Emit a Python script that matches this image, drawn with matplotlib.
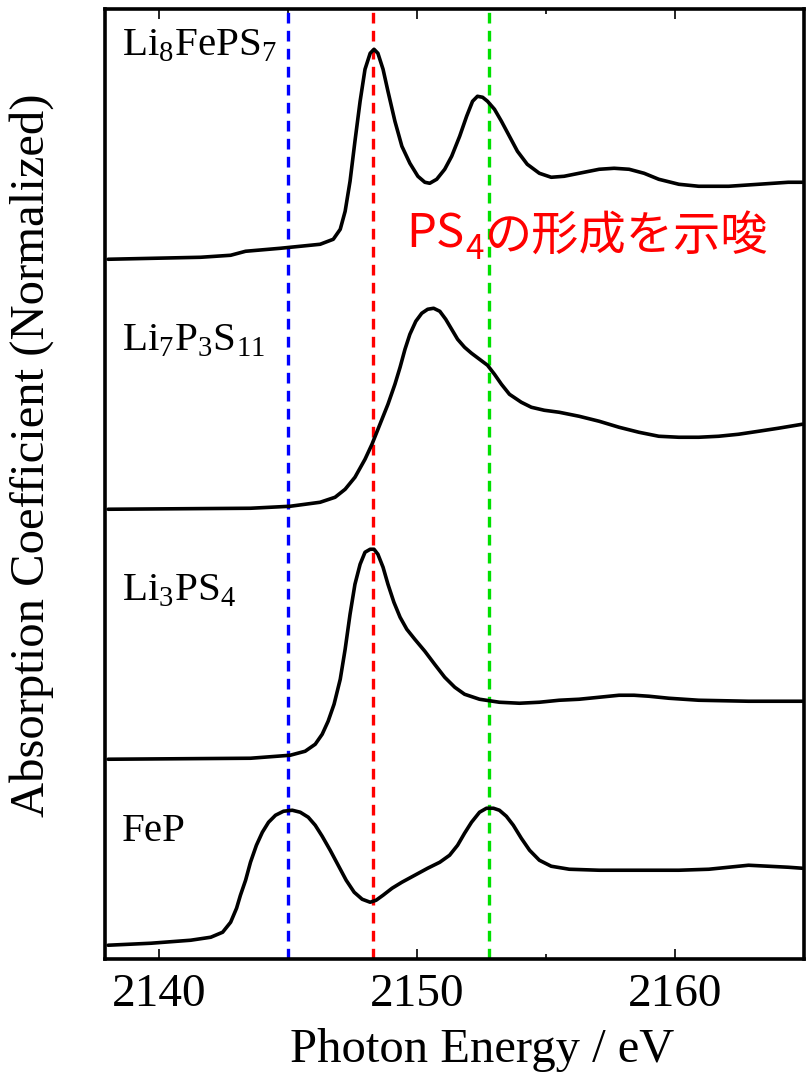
import matplotlib
matplotlib.use("Agg")
import matplotlib.pyplot as plt
from matplotlib.ticker import MultipleLocator

# S K-edge XANES spectra, normalized intensity before vertical offset
energy_fep = [2138.02, 2139.68, 2141.22, 2142.00, 2142.46, 2142.77, 2143.00, 2143.15, 2143.35, 2143.54,
              2143.77, 2144.00, 2144.24, 2144.51, 2144.82, 2145.16, 2145.47, 2145.78, 2146.05, 2146.32,
              2146.63, 2146.94, 2147.25, 2147.56, 2147.87, 2148.18, 2148.41, 2148.68, 2149.03, 2149.41,
              2149.91, 2150.41, 2150.88, 2151.26, 2151.57, 2151.84, 2152.11, 2152.42, 2152.69, 2152.96,
              2153.19, 2153.46, 2153.73, 2154.04, 2154.36, 2154.74, 2155.20, 2155.90, 2157.06, 2158.60,
              2160.15, 2161.31, 2162.08, 2162.85, 2163.62, 2164.39, 2164.93]
absorb_fep = [0.00, 0.02, 0.05, 0.08, 0.13, 0.23, 0.37, 0.50, 0.65, 0.83,
              1.00, 1.13, 1.23, 1.30, 1.34, 1.35, 1.33, 1.28, 1.20, 1.09,
              0.95, 0.80, 0.65, 0.53, 0.46, 0.43, 0.45, 0.50, 0.57, 0.63,
              0.70, 0.77, 0.83, 0.90, 1.00, 1.12, 1.23, 1.33, 1.37, 1.37,
              1.35, 1.29, 1.20, 1.07, 0.95, 0.85, 0.79, 0.76, 0.75, 0.75,
              0.75, 0.76, 0.78, 0.80, 0.79, 0.78, 0.77]

energy_li3ps4 = [2138.02, 2143.54, 2145.08, 2145.66, 2146.05, 2146.32, 2146.55, 2146.78, 2147.02, 2147.21,
                 2147.40, 2147.59, 2147.79, 2147.98, 2148.18, 2148.33, 2148.48, 2148.68, 2148.87, 2149.10,
                 2149.34, 2149.60, 2149.91, 2150.30, 2150.68, 2151.07, 2151.46, 2151.84, 2152.42, 2153.19,
                 2153.97, 2154.74, 2155.51, 2156.28, 2157.06, 2157.83, 2158.41, 2158.99, 2159.76, 2160.92,
                 2162.85, 2164.93]
absorb_li3ps4 = [0.00, 0.01, 0.04, 0.08, 0.15, 0.25, 0.38, 0.55, 0.80, 1.10,
                 1.45, 1.75, 1.95, 2.07, 2.10, 2.10, 2.05, 1.92, 1.75, 1.57,
                 1.42, 1.30, 1.20, 1.08, 0.95, 0.82, 0.72, 0.65, 0.60, 0.57,
                 0.56, 0.57, 0.59, 0.60, 0.62, 0.64, 0.64, 0.63, 0.61, 0.59,
                 0.58, 0.58]

energy_li7p3s11 = [2138.02, 2143.54, 2145.08, 2146.24, 2146.82, 2147.21, 2147.59, 2147.98, 2148.25, 2148.56,
                   2148.87, 2149.14, 2149.34, 2149.53, 2149.72, 2149.95, 2150.18, 2150.41, 2150.64, 2150.88,
                   2151.11, 2151.34, 2151.57, 2151.84, 2152.11, 2152.42, 2152.73, 2153.00, 2153.27, 2153.58,
                   2154.04, 2154.43, 2154.93, 2155.51, 2156.28, 2157.06, 2157.83, 2158.60, 2159.37, 2160.15,
                   2160.92, 2161.69, 2162.46, 2163.24, 2164.00, 2164.93]
absorb_li7p3s11 = [0.00, 0.01, 0.03, 0.07, 0.12, 0.20, 0.32, 0.50, 0.65, 0.85,
                   1.05, 1.25, 1.42, 1.60, 1.75, 1.88, 1.96, 2.00, 2.01, 1.98,
                   1.90, 1.80, 1.70, 1.62, 1.56, 1.50, 1.44, 1.35, 1.25, 1.15,
                   1.07, 1.02, 0.99, 0.97, 0.93, 0.88, 0.82, 0.77, 0.73, 0.72,
                   0.72, 0.73, 0.75, 0.78, 0.81, 0.85]

energy_li8feps7 = [2138.02, 2141.61, 2142.77, 2143.35, 2144.70, 2146.24, 2146.75, 2147.02, 2147.21, 2147.40,
                   2147.59, 2147.79, 2147.98, 2148.18, 2148.33, 2148.48, 2148.68, 2148.87, 2149.14, 2149.41,
                   2149.72, 2150.03, 2150.30, 2150.49, 2150.76, 2151.07, 2151.34, 2151.65, 2151.92, 2152.15,
                   2152.34, 2152.54, 2152.73, 2153.00, 2153.27, 2153.58, 2153.89, 2154.27, 2154.74, 2155.20,
                   2155.70, 2156.28, 2157.06, 2157.64, 2158.22, 2158.80, 2159.37, 2160.15, 2160.92, 2162.08,
                   2163.24, 2164.39, 2164.93]
absorb_li8feps7 = [0.00, 0.02, 0.04, 0.08, 0.11, 0.15, 0.20, 0.30, 0.48, 0.78,
                   1.18, 1.58, 1.90, 2.06, 2.10, 2.06, 1.90, 1.68, 1.38, 1.13,
                   0.96, 0.83, 0.77, 0.76, 0.80, 0.90, 1.03, 1.23, 1.43, 1.58,
                   1.63, 1.62, 1.58, 1.50, 1.38, 1.23, 1.08, 0.95, 0.86, 0.82,
                   0.83, 0.86, 0.90, 0.91, 0.90, 0.86, 0.80, 0.75, 0.73, 0.73,
                   0.75, 0.77, 0.77]

offsets = [0.14, 2.0, 4.5, 7.0]
sample_labels = ["FeP", r"Li$_\mathregular{3}$PS$_\mathregular{4}$",
                 r"Li$_\mathregular{7}$P$_\mathregular{3}$S$_\mathregular{11}$",
                 r"Li$_\mathregular{8}$FePS$_\mathregular{7}$"]
label_y = [1.28, 3.68, 6.18, 9.13]

marker_energies = [2145.0, 2148.3, 2152.8]
marker_colors = ["#0000ff", "#ff0000", "#00e000"]

plt.rcParams["font.family"] = ["Liberation Serif", "DejaVu Serif"]
plt.rcParams["mathtext.fontset"] = "custom"
plt.rcParams["mathtext.rm"] = "Liberation Serif"

fig = plt.figure(figsize=(8.06, 10.79), dpi=100)
ax = fig.add_axes([0.1303, 0.111, 0.8672, 0.8804])

spectra = [(energy_fep, absorb_fep), (energy_li3ps4, absorb_li3ps4),
           (energy_li7p3s11, absorb_li7p3s11), (energy_li8feps7, absorb_li8feps7)]
for (energy, absorb), offset in zip(spectra, offsets):
    ax.plot(energy, [a + offset for a in absorb], color="black", lw=2.6,
            solid_joinstyle="round", solid_capstyle="round", zorder=3)

for energy, color in zip(marker_energies, marker_colors):
    ax.axvline(energy, color=color, lw=2.4, dashes=(3.2, 2.2), zorder=2)

for text, y in zip(sample_labels, label_y):
    ax.text(2138.55, y, text, fontsize=29.5, ha="left", va="center")

# annotation about PS4 formation; pieces chained left to right
renderer = fig.canvas.get_renderer()
note_style = dict(color="#ff0000", family="Noto Sans CJK JP", ha="left", va="baseline")
base_y = 1 - 247 / 1079
part = fig.text(406 / 806, base_y, "PS", fontsize=34, **note_style)
x_next = part.get_window_extent(renderer).x1 + 1
part = fig.text(x_next / 806, base_y - 12 / 1079, "4", fontsize=24, **note_style)
x_next = part.get_window_extent(renderer).x1 + 1
fig.text(x_next / 806, base_y - 4 / 1079, "の形成を示唆", fontsize=34, **note_style)

ax.set_xlim(2137.9, 2165.0)
ax.set_ylim(0, 9.5)
ax.xaxis.set_major_locator(MultipleLocator(10))
ax.xaxis.set_minor_locator(MultipleLocator(5))
ax.tick_params(axis="x", which="both", direction="in", top=True, labelsize=34, pad=10, width=1.2)
ax.tick_params(axis="x", which="major", length=7)
ax.tick_params(axis="x", which="minor", length=3.5)
ax.set_yticks([])
for spine in ax.spines.values():
    spine.set_linewidth(2.6)

ax.set_xlabel("Photon Energy / eV", fontsize=35)
ax.xaxis.set_label_coords((482 - 105) / 699, -0.072)
fig.text(32 / 806, 1 - 455 / 1079, "Absorption Coefficient (Normalized)", fontsize=35,
         rotation=90, ha="center", va="center")

fig.savefig("out.png", dpi=100)
